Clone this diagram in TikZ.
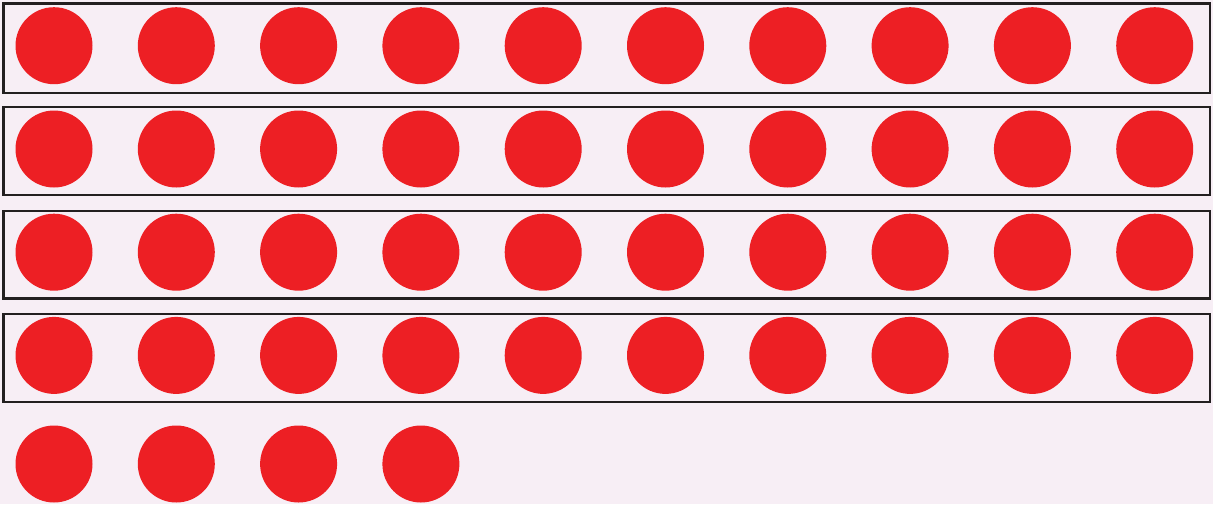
\documentclass[tikz,border=0pt]{standalone}
\definecolor{bg}{RGB}{247,238,245}
\definecolor{dotred}{RGB}{237,31,36}
\definecolor{frame}{RGB}{35,31,32}
\begin{document}
\begin{tikzpicture}[x=1pt,y=-1pt,
  dot/.style={circle,fill=dotred,minimum size=77pt,inner sep=0pt,draw=none},
  rowbox/.style={draw=frame,line width=2.4pt}]
\fill[bg] (0,0) rectangle (1213,504);
\useasboundingbox (0,0) rectangle (1213,504);
\foreach \r/\top/\bot/\cy in {0/3.5/93/45.7,1/107/195/149,2/210.7/298.3/252.2,3/313.7/401.7/355.4}{
  \draw[rowbox] (3.5,\top) rectangle (1210,\bot);
  \foreach \c in {0,...,9}{
    \node[dot] (d\r-\c) at ({54+122.3*\c},\cy) {};
  }
}
\foreach \c in {0,...,3}{
  \node[dot] (d4-\c) at ({54+122.3*\c},464) {};
}
\end{tikzpicture}
\end{document}
